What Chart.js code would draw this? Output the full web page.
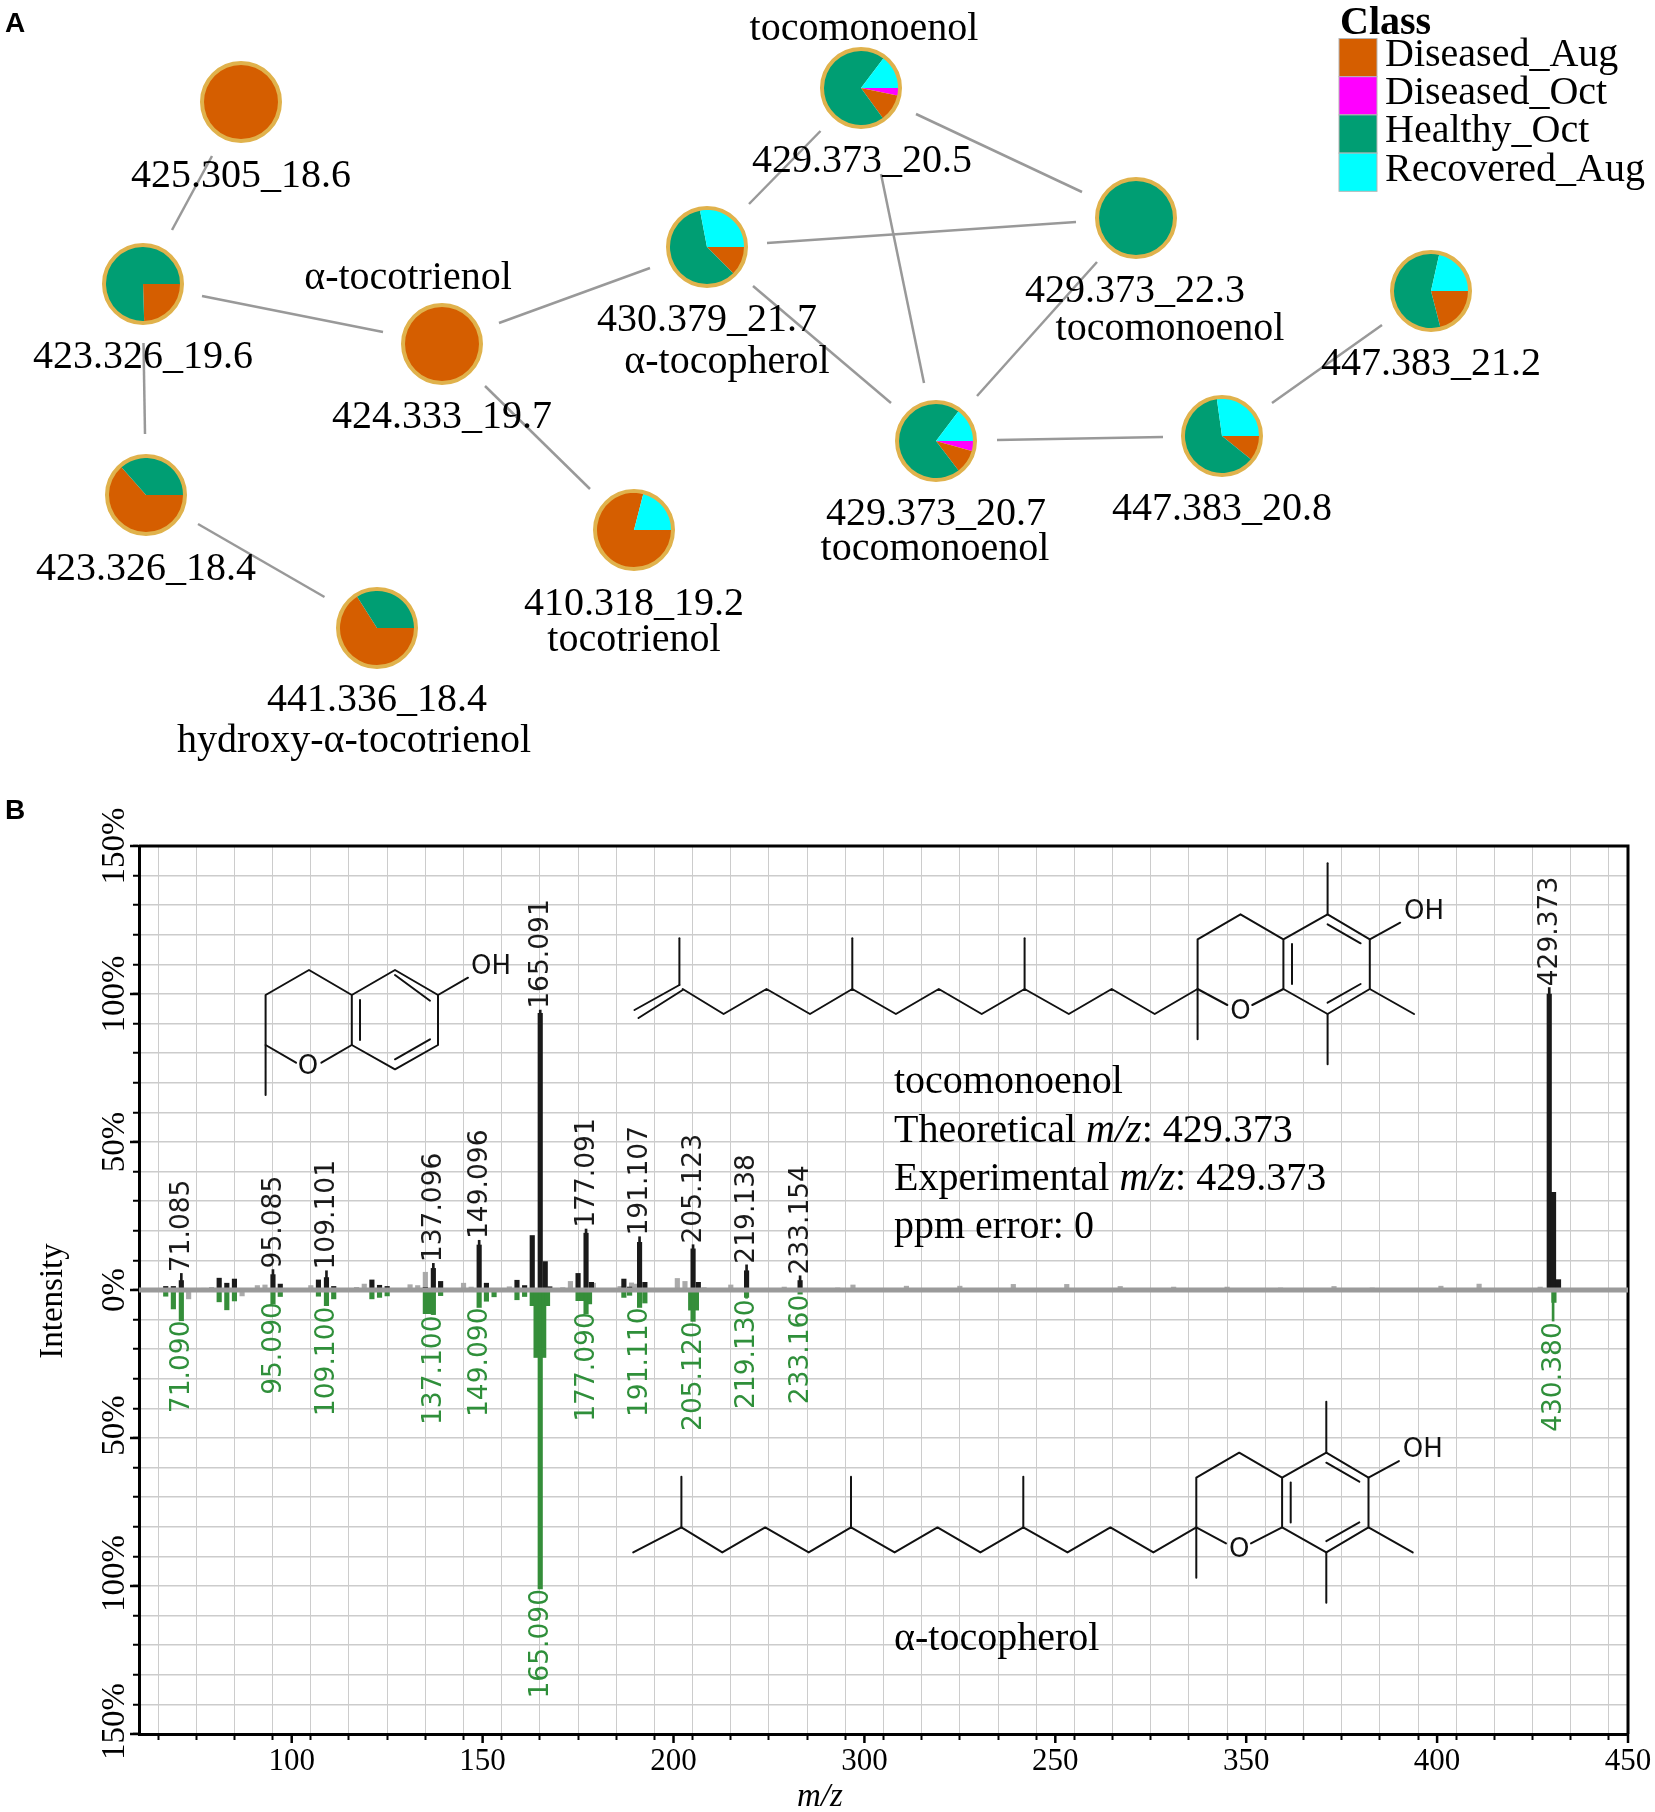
<!DOCTYPE html>
<html><head><meta charset="utf-8">
<script src="https://cdn.jsdelivr.net/npm/chart.js@4"></script>
<style>
html,body{margin:0;padding:0;background:#fff;width:1655px;height:1812px;overflow:hidden}
canvas{position:absolute;left:0;top:0}
#stage{position:relative;width:1655px;height:1812px}
</style></head><body><div id="stage"><canvas id="spec" width="1655" height="1812"></canvas><canvas id="net" width="1655" height="800"></canvas></div>
<script>
// ---------- Panel A data ----------
const classes = ["Diseased_Oct","Diseased_Aug","Healthy_Oct","Recovered_Aug"];
const classColors = ["#FF00FF","#D55E00","#009E73","#00FFFF"];
const legendNames = ["Diseased_Aug","Diseased_Oct","Healthy_Oct","Recovered_Aug"];
const legendColors = ["#D55E00","#FF00FF","#009E73","#00FFFF"];
const nodeNames = ["425.305_18.6","423.326_19.6","424.333_19.7","430.379_21.7","423.326_18.4","410.318_19.2","441.336_18.4","429.373_20.5","429.373_22.3","429.373_20.7","447.383_20.8","447.383_21.2"];
const nodeX = [241,143,442,707,146,634,377,861,1136,936,1222,1431];
const nodeY = [102,284,344,247,495,530,628,88,218,441,436,291];
const pieDiseasedOct  = [0,0,0,0,0,0,0,3.3,0,4.3,0,0];
const pieDiseasedAug  = [100,24.5,100,12.5,63.5,79,66,11.7,0,10.3,10.8,21];
const pieHealthyOct   = [0,75.5,0,59.5,36.5,0,34,70.3,100,70.7,62,57.5];
const pieRecoveredAug = [0,0,0,28,0,21,0,14.7,0,14.7,27.2,21.5];
const edgeFromX = [212,202,143.5,198,485,499,749,767,753,916,881,1097,997,1272];
const edgeFromY = [156,296,343,524,386,323,204,243,286,114,174,262,440,403];
const edgeToX   = [172,383,145,324.5,590,650,820.5,1076,891,1082,924,977,1163,1382];
const edgeToY   = [230,332,434,597,489,268,131,222,403,192,383,396,437,325];
const netLabels = [
 ["425.305_18.6",241,187],["423.326_19.6",143,368],["α-tocotrienol",408,289],["424.333_19.7",442,428],
 ["430.379_21.7",707,331],["α-tocopherol",727,373],["423.326_18.4",146,580],["410.318_19.2",634,615],
 ["tocotrienol",634,651],["441.336_18.4",377,711],["hydroxy-α-tocotrienol",354,752],["tocomonoenol",864,40],
 ["429.373_20.5",862,172],["429.373_22.3",1135,302],["tocomonoenol",1170,340],["429.373_20.7",936,525],
 ["tocomonoenol",935,560],["447.383_20.8",1222,520],["447.383_21.2",1431,375]];

// ---------- Panel B data ----------
const xTickValues = [100,150,200,250,300,350,400,450];
const xTickLabels = ["100","150","200","300","250","350","400","450"];
const noiseMz  = [77,79,91,93,99,105,117,119,131,133,135,145,147,157,171,173,179,186,189,190,201,203,208,215,229,243,247,261,275,289,303,317,331,345,359,373,383,401,411,427];
const noiseInt = [0.6,0.9,1.5,1.7,0.5,1.5,0.9,2,1.8,1.5,6,2.3,1,1.1,0.8,2.9,2.3,1.2,2.4,2,3.9,2.9,0.8,1.7,1,0.7,1.7,1.3,1.3,1.9,1.9,1.2,1,1,0.7,1.2,0.7,1.3,2,1];
const noiseNegMz  = [73,87];
const noiseNegInt = [-3,-2];
const queryMz  = [67,69,71.085,81,83,85,95.085,97,107,109.101,111,121,123,125,135,137.096,139,149.096,151,159,161,163,165.091,166.4,167.6,175,177.091,178.5,187,188.5,191.107,192.5,205.123,206.5,219.138,233.154,429.373,430.5,431.8];
const queryInt = [1.2,1.2,3.2,4,2.3,3.7,5.2,2,3.4,4.2,1.2,3.4,1.6,1.2,0.9,7.3,2.9,15.2,2.3,3.3,1.5,18.4,93.5,9.6,1.1,5.6,19.2,2.6,3.7,1,16.1,2.6,13.9,2.6,6.5,3.2,100,33,3.5];
const libMz  = [67,69,71.09,81,83,85,95.09,97,107,109.1,111,121,123,125,135,136,137.1,139,149.09,151,153,159,161,163,164,165.09,166,167,175,176,177.09,178,187,188.5,191.11,192.5,204.5,205.12,206,219.13,233.16,430.6];
const libInt = [-2.1,-6.4,-10.4,-4,-6.7,-3.7,-4.7,-2.2,-2.1,-5.3,-3,-3,-2.5,-2,-8,-8,-8.3,-1.9,-5.9,-3.8,-2.3,-3.3,-2.2,-5.3,-22.8,-101,-22.8,-5.3,-3.6,-3.6,-8,-4.7,-2.5,-1.8,-5.9,-4.4,-6.8,-10.6,-6.8,-2.5,-1.4,-4.2];
const queryLabelMz = [71.085,95.085,109.101,137.096,149.096,165.091,177.091,191.107,205.123,219.138,233.154,429.373];
const queryLabelAt = [6,7.3,6.9,9.4,17.2,95,21,18.4,15.7,8.9,5.2,102.6];
const libLabelMz = [71.09,95.09,109.1,137.1,149.09,165.09,177.09,191.11,205.12,219.13,233.16,430.38];
const libLabelTxt = ["71.090","95.090","109.100","137.100","149.090","165.090","177.090","191.110","205.120","219.130","233.160","430.380"];
const libLabelAt = [-10.3,-4.1,-5.6,-8.6,-5.9,-101,-7.5,-5.9,-10.6,-3.2,-1.6,-10.9];

const SERIF = '"Liberation Serif"';
const pts = (xs, ys) => xs.map((x,i)=>({x, y:ys[i]}));

// ---------- Panel A: network ----------
const netPlugin = {
  id:'netText',
  afterDraw(c){
    const g=c.ctx; g.save();
    g.fillStyle='#000'; g.textBaseline='alphabetic'; g.textAlign='center';
    g.font='40px '+SERIF;
    netLabels.forEach(([t,x,y])=>g.fillText(t,x,y));
    g.textAlign='left';
    g.font='bold 40px '+SERIF; g.fillText('Class',1340,34);
    legendNames.forEach((n,i)=>{
      g.fillStyle=legendColors[i]; g.fillRect(1339,38.5+i*38.2,38,38.2);
      g.strokeStyle='#b5b5b5'; g.lineWidth=1; g.strokeRect(1339,38.5+i*38.2,38,38.2);
      g.fillStyle='#000'; g.font='40px '+SERIF; g.fillText(n,1385,66+i*38.2);
    });
    g.font='bold 28px "Liberation Sans"'; g.fillText('A',5,32);
    g.restore();
  }
};
const edgeSets = edgeFromX.map((x,i)=>({type:'line',data:[{x,y:edgeFromY[i]},{x:edgeToX[i],y:edgeToY[i]}],borderColor:'#999',borderWidth:2.5,pointRadius:0,fill:false}));
const netChart = new Chart(document.getElementById('net'),{
  type:'scatter',
  data:{datasets:[...edgeSets,{label:'nodes',data:pts(nodeX,nodeY),pointRadius:38.5,pointBorderWidth:5,pointBorderColor:'#E0B24C',pointBackgroundColor:'#fff'}]},
  options:{responsive:false,animation:false,events:[],devicePixelRatio:1,layout:{padding:0,autoPadding:false},
    plugins:{legend:{display:false},tooltip:{enabled:false}},
    scales:{x:{type:'linear',min:0,max:1655,display:false},y:{type:'linear',min:0,max:800,reverse:true,display:false}}},
  plugins:[netPlugin]
});
nodeNames.forEach((name,i)=>{
  const cv=document.createElement('canvas'); cv.width=74; cv.height=74;
  cv.style.left=(netChart.scales.x.getPixelForValue(nodeX[i])-37)+'px';
  cv.style.top=(netChart.scales.y.getPixelForValue(nodeY[i])-37)+'px';
  document.getElementById('stage').appendChild(cv);
  new Chart(cv,{type:'pie',
    data:{labels:classes,datasets:[{label:name,data:[pieDiseasedOct[i],pieDiseasedAug[i],pieHealthyOct[i],pieRecoveredAug[i]],backgroundColor:classColors,borderWidth:0}]},
    options:{responsive:false,animation:false,events:[],devicePixelRatio:1,rotation:90,layout:{padding:0,autoPadding:false},plugins:{legend:{display:false},tooltip:{enabled:false}}}
  });
});

// ---------- Panel B: structures (drawing annotations) ----------
const chainRing = [
 [[682.7,989],[723.6,1014],[766.5,989],[810,1014],[852.3,989],[895.9,1014],[938.8,989],[981.7,1014],[1024.6,989],[1068.8,1014],[1111.7,989],[1154.7,1014],[1197.6,989]],
 [[852.3,938.3],[852.3,989]],[[1024.6,938.3],[1024.6,989]],
 [[1197.6,1039.3],[1197.6,939.3],[1240.5,914.3],[1283.4,939.3],[1327.6,914.3],[1369.8,939.3],[1369.8,989],[1327.6,1014],[1283.4,989],[1283.4,939.3]],
 [[1197.6,989],[1227.3,1005]],[[1252.3,1005],[1283.4,989]],
 [[1327.6,863.3],[1327.6,914.3]],[[1327.6,1014],[1327.6,1064.3]],[[1369.8,989],[1414,1014]],[[1369.8,939.3],[1400.2,922.7]],
 [[1292,944],[1292,984]],[[1327.6,924.3],[1360.6,943.3]],[[1327.6,1002.7],[1360.6,984]]
];
const tailEne = [[[634.5,1010],[679.4,985]],[[638.5,1018],[682.7,990]],[[679.4,938.3],[679.4,985]]];
const tailAne = [[[634.5,1014],[682.7,989]],[[682.7,938.3],[682.7,989]]];
const chroman = [
 [[265.6,1095],[265.6,995],[309,970],[351.8,995],[395,970],[438,995],[438,1045],[395,1069.3],[351.8,1045],[351.8,995]],
 [[265.6,1045],[296,1062.7]],[[321.4,1062.7],[351.8,1045]],[[438,995],[468,977.7]],
 [[360,1000],[360,1040]],[[395,975],[430,1000.7]],[[395,1059.3],[430,1039.3]]
];
function drawLines(g,list,dx,dy){
  list.forEach(l=>{g.beginPath();l.forEach(([x,y],i)=>i?g.lineTo(x+dx,y+dy):g.moveTo(x+dx,y+dy));g.stroke();});
}
const specPlugin = {
  id:'specText',
  beforeDatasetsDraw(c){
    const g=c.ctx,a=c.chartArea; g.save(); g.strokeStyle='#000'; g.lineWidth=3;
    g.beginPath(); g.moveTo(a.left,a.top); g.lineTo(a.right,a.top); g.lineTo(a.right,a.bottom); g.stroke(); g.restore();
  },
  afterDraw(c){
    const g=c.ctx,X=c.scales.x,Y=c.scales.y,a=c.chartArea; g.save();
    // longer tick marks at the labelled values
    g.strokeStyle='#000'; g.lineWidth=2.5;
    xTickValues.forEach(v=>{const p=X.getPixelForValue(v);g.beginPath();g.moveTo(p,a.bottom);g.lineTo(p,a.bottom+9);g.stroke();});
    [-150,-100,-50,0,50,100,150].forEach(v=>{const p=Y.getPixelForValue(v);g.beginPath();g.moveTo(a.left,p);g.lineTo(a.left-9,p);g.stroke();});
    // peak labels
    g.font='26.5px "DejaVu Sans"'; g.textBaseline='middle';
    const rot=(t,x,y,al,col)=>{g.save();g.translate(x,y);g.rotate(-Math.PI/2);g.textAlign=al;g.fillStyle=col;g.fillText(t,0,0);g.restore();};
    queryLabelMz.forEach((m,i)=>rot(m.toFixed(3),X.getPixelForValue(m)+1,Y.getPixelForValue(queryLabelAt[i]),'left','#1a1a1a'));
    libLabelMz.forEach((m,i)=>rot(libLabelTxt[i],X.getPixelForValue(m)+1,Y.getPixelForValue(libLabelAt[i]),'right','#2f8f3a'));
    // structures
    g.strokeStyle='#111'; g.lineWidth=2; g.lineCap='round'; g.lineJoin='round';
    drawLines(g,chroman,0,0);
    drawLines(g,chainRing,0,0); drawLines(g,tailEne,0,0);
    drawLines(g,chainRing,-1.3,538.4); drawLines(g,tailAne,-1.3,538.4);
    g.fillStyle='#111'; g.textAlign='center'; g.font='26px "DejaVu Sans"'; g.textBaseline='middle';
    g.fillText('O',308,1067); g.fillText('OH',491,967);
    g.fillText('O',1240.5,1012); g.fillText('OH',1424,912);
    g.fillText('O',1239.2,1550); g.fillText('OH',1422.7,1450);
    // annotations
    g.fillStyle='#000'; g.textAlign='left'; g.textBaseline='alphabetic';
    const R='40px '+SERIF,I='italic 40px '+SERIF;
    const seq=(x,y,parts)=>parts.forEach(([t,f])=>{g.font=f;g.fillText(t,x,y);x+=g.measureText(t).width;});
    seq(894,1093,[['tocomonoenol',R]]);
    seq(894,1142,[['Theoretical ',R],['m/z',I],[': 429.373',R]]);
    seq(894,1190,[['Experimental ',R],['m/z',I],[': 429.373',R]]);
    seq(894,1238,[['ppm error: 0',R]]);
    seq(894,1650,[['α-tocopherol',R]]);
    g.textAlign='center';
    g.font='italic 33px '+SERIF; g.fillText('m/z',820,1806);
    g.save(); g.translate(62,1301); g.rotate(-Math.PI/2); g.font='33px '+SERIF; g.fillText('Intensity',0,0); g.restore();
    g.textAlign='left'; g.font='bold 28px "Liberation Sans"'; g.fillText('B',5,819);
    g.restore();
  }
};
const barBase = {type:'bar',barThickness:4.5,grouped:false};
new Chart(document.getElementById('spec'),{
  type:'bar',
  data:{datasets:[
    {type:'line',label:'baseline',data:[{x:60,y:0},{x:450,y:0}],borderColor:'#9a9a9a',borderWidth:5,pointRadius:0,order:0},
    {...barBase,label:'query stems',data:pts(queryLabelMz,queryLabelAt.map(v=>v-0.4)),backgroundColor:'#1a1a1a',barThickness:2,order:2},
    {...barBase,label:'library stems',data:pts(libLabelMz,libLabelAt.map(v=>v+0.4)),backgroundColor:'#358e3a',barThickness:2,order:2},
    {...barBase,label:'query',data:pts(queryMz,queryInt),backgroundColor:'#1a1a1a',order:3},
    {...barBase,label:'library',data:pts(libMz,libInt),backgroundColor:'#358e3a',order:3},
    {...barBase,label:'noise',data:pts(noiseMz,noiseInt),backgroundColor:'#aaaaaa',order:4},
    {...barBase,label:'noise library',data:pts(noiseNegMz,noiseNegInt),backgroundColor:'#aaaaaa',order:4}
  ]},
  options:{responsive:false,animation:false,events:[],devicePixelRatio:1,
    layout:{padding:{top:846,right:27,left:0,bottom:0}},
    plugins:{legend:{display:false},tooltip:{enabled:false}},
    scales:{
      x:{type:'linear',min:60,max:450,offset:false,
        afterFit:s=>{s.height=78;},
        afterBuildTicks:s=>{s.ticks=[];for(let v=60;v<=450;v+=10)s.ticks.push({value:v});},
        grid:{color:'#cccccc',lineWidth:1,tickColor:'#000',tickWidth:2,tickLength:6,drawTicks:true},
        border:{color:'#000',width:3},
        ticks:{autoSkip:false,maxRotation:0,minRotation:0,padding:3,color:'#000',font:{family:'Liberation Serif',size:31},
          callback:v=>{const i=xTickValues.indexOf(v);return i<0?'':xTickLabels[i];}}},
      y:{type:'linear',min:-150,max:150,
        afterFit:s=>{s.width=139;},
        grid:{color:'#cccccc',lineWidth:1.5,tickColor:'#000',tickWidth:2,tickLength:6},
        border:{color:'#000',width:3},
        ticks:{stepSize:10,autoSkip:false,minRotation:90,maxRotation:90,crossAlign:'center',padding:-33,color:'#000',font:{family:'Liberation Serif',size:33},
          callback:v=>{if(v%50!==0)return '';const t=Math.abs(v)+'%';return v<0?'   '+t:t;}}}
    }},
  plugins:[specPlugin]
});
</script></body></html>
